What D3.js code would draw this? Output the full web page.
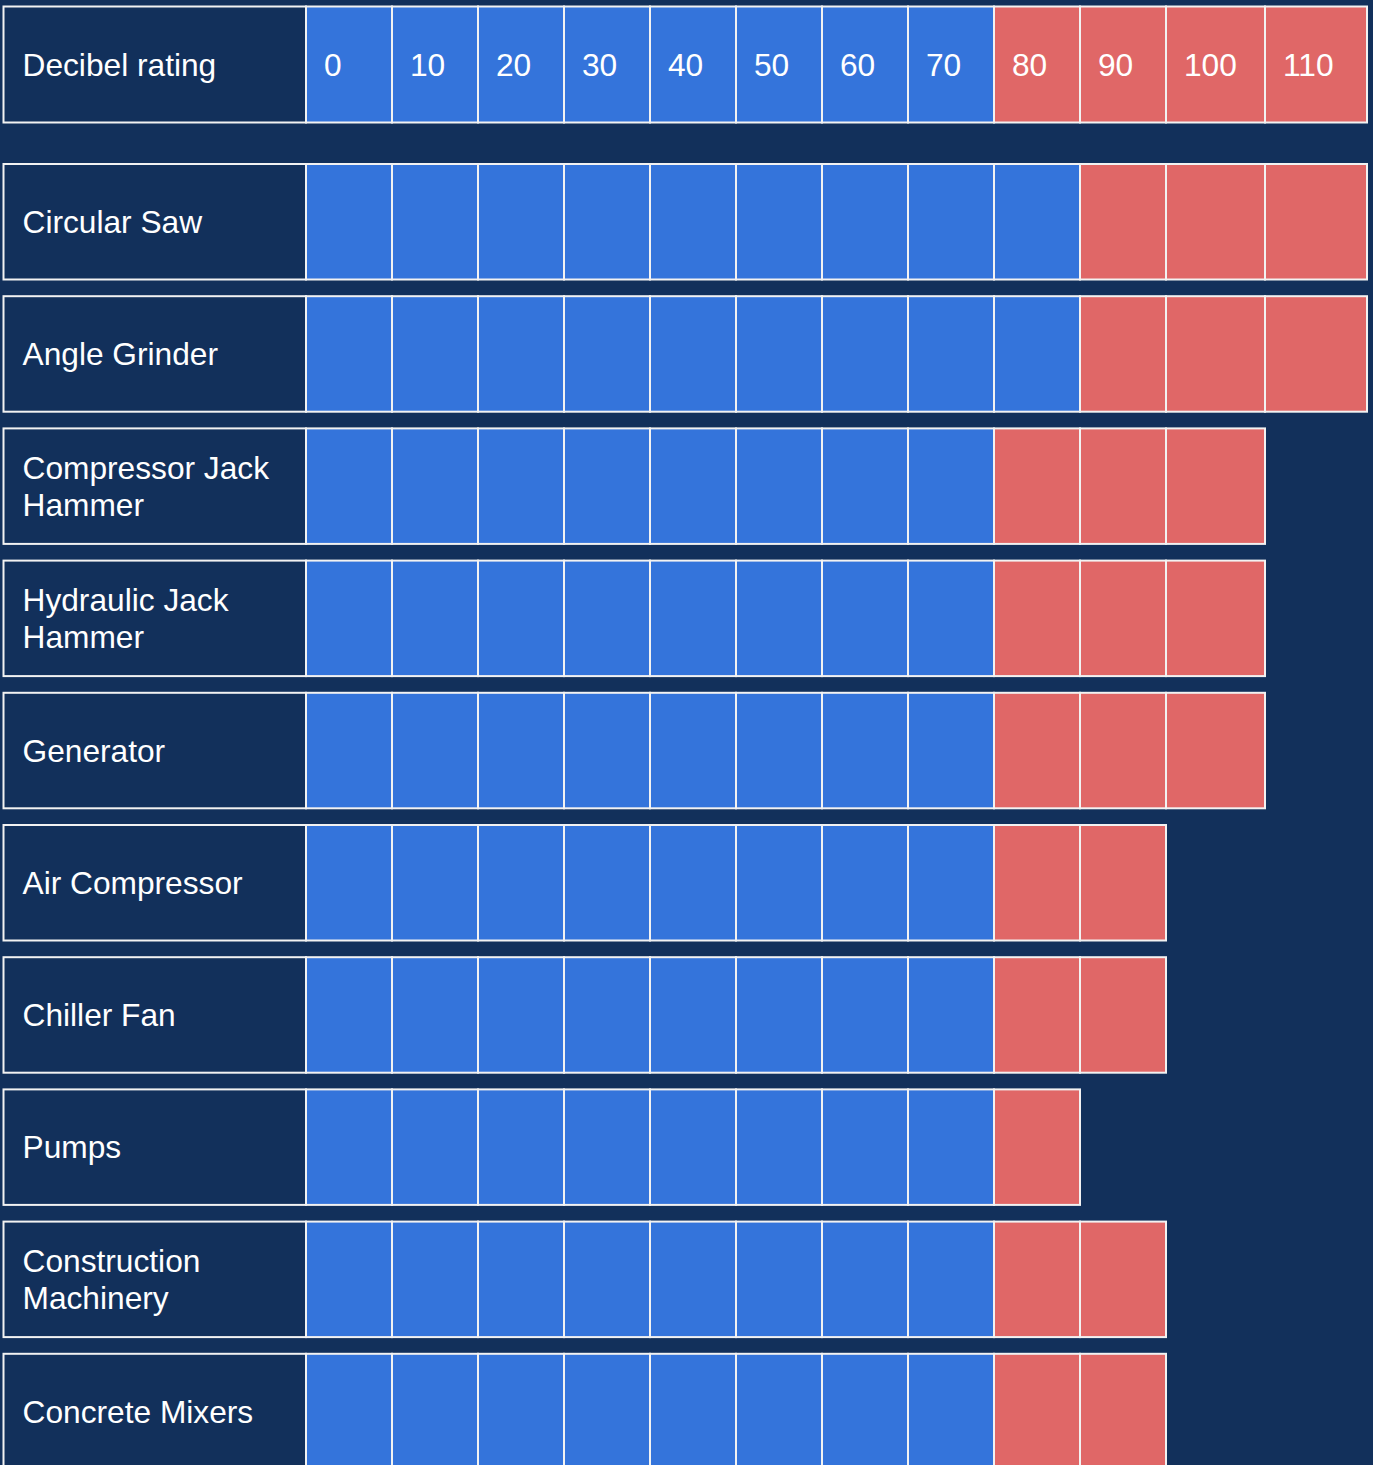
<!DOCTYPE html>
<html>
<head>
<meta charset="utf-8">
<script src="https://cdn.jsdelivr.net/npm/d3@7"></script>
<style>
  html, body { margin: 0; padding: 0; background: #12305b; overflow: hidden; }
  svg { display: block; }
</style>
</head>
<body>
<svg id="chart" width="1373" height="1465"></svg>
<script>
// ---- data ----
const headerLabel = "Decibel rating";
const decibelTicks = [0, 10, 20, 30, 40, 50, 60, 70, 80, 90, 100, 110];
const headerDangerFrom = 80;
const categories = ["Circular Saw", "Angle Grinder", "Compressor Jack Hammer", "Hydraulic Jack Hammer", "Generator", "Air Compressor", "Chiller Fan", "Pumps", "Construction Machinery", "Concrete Mixers"];
const maxDecibel = [110, 110, 100, 100, 100, 90, 90, 80, 90, 90];
const dangerFrom = [90, 90, 80, 80, 80, 80, 80, 80, 80, 80];

// ---- layout ----
const W = 1373, H = 1465;
const colors = { bg: "#12305b", safe: "#3474db", danger: "#e06767", border: "#f2f2f2", text: "#ffffff" };
const fontSize = 31.7;
const labelLeft = 3.5, labelRight = 306, textPad = 19;
const colWidths = [86, 86, 86, 86, 86, 86, 86, 86, 86, 86, 99, 102];

const svg = d3.select("#chart");
svg.append("rect").attr("width", W).attr("height", H).attr("fill", colors.bg);

// x positions for each decibel column
const edges = d3.cumsum([0, ...colWidths.slice(0, -1)]).map(v => labelRight + v);
const xLeft = d3.scaleOrdinal(decibelTicks, edges);
const xWidth = d3.scaleOrdinal(decibelTicks, colWidths);

// y band for rows
const rowScale = d3.scaleBand(categories, [164, 164 + 9 * 132.2 + 115.5]).paddingInner(16.7 / 132.2).paddingOuter(0);
const header = { y: 6.5, h: 116 };

const rows = categories.map((c, i) => ({ name: c, max: maxDecibel[i], danger: dangerFrom[i] }));

function drawLabel(g, text, y, h) {
  g.append("rect")
    .attr("x", labelLeft).attr("y", y)
    .attr("width", labelRight - labelLeft).attr("height", h)
    .attr("fill", colors.bg).attr("stroke", colors.border).attr("stroke-width", 2);
  const t = g.append("text")
    .attr("x", labelLeft + textPad)
    .attr("fill", colors.text)
    .attr("font-family", "Liberation Sans, Arial, sans-serif")
    .attr("font-size", fontSize);
  // word wrap
  const words = text.split(" ");
  const maxW = 275;
  const lines = [];
  let cur = [];
  const probe = t.append("tspan");
  words.forEach(w => {
    const trial = [...cur, w].join(" ");
    probe.text(trial);
    if (probe.node().getComputedTextLength() > maxW && cur.length) {
      lines.push(cur.join(" "));
      cur = [w];
    } else {
      cur.push(w);
    }
  });
  lines.push(cur.join(" "));
  probe.remove();
  const lh = 37;
  const cy = y + h / 2;
  const capHalf = fontSize * 0.716 / 2;
  lines.forEach((ln, k) => {
    t.append("tspan")
      .attr("x", labelLeft + textPad)
      .attr("y", cy + capHalf + (k - (lines.length - 1) / 2) * lh)
      .text(ln);
  });
}

// header row
const hg = svg.append("g").attr("class", "header");
drawLabel(hg, headerLabel, header.y, header.h);
hg.selectAll("rect.cell")
  .data(decibelTicks)
  .join("rect")
  .attr("class", "cell")
  .attr("x", d => xLeft(d)).attr("y", header.y)
  .attr("width", d => xWidth(d)).attr("height", header.h)
  .attr("fill", d => d >= headerDangerFrom ? colors.danger : colors.safe)
  .attr("stroke", colors.border).attr("stroke-width", 2);
hg.selectAll("text.tick")
  .data(decibelTicks)
  .join("text")
  .attr("class", "tick")
  .attr("x", d => xLeft(d) + 18)
  .attr("y", header.y + header.h / 2 + fontSize * 0.716 / 2)
  .attr("fill", colors.text)
  .attr("font-family", "Liberation Sans, Arial, sans-serif")
  .attr("font-size", fontSize)
  .text(d => d);

// data rows
rows.forEach(r => {
  const g = svg.append("g").attr("class", "row");
  const y = rowScale(r.name), h = rowScale.bandwidth();
  drawLabel(g, r.name, y, h);
  g.selectAll("rect.cell")
    .data(decibelTicks.filter(v => v <= r.max))
    .join("rect")
    .attr("class", "cell")
    .attr("x", d => xLeft(d)).attr("y", y)
    .attr("width", d => xWidth(d)).attr("height", h)
    .attr("fill", d => d >= r.danger ? colors.danger : colors.safe)
    .attr("stroke", colors.border).attr("stroke-width", 2);
});
</script>
</body>
</html>
